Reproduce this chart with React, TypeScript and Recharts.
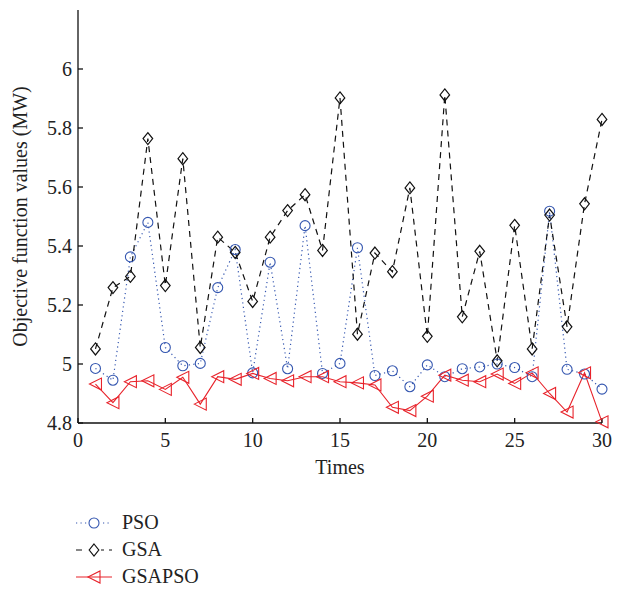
import React from "react";
import { LineChart, Line, XAxis, YAxis } from "recharts";

// ─── Data ─────────────────────────────────────────────────────────────────────

const TIMES: number[] = Array.from({ length: 30 }, (_, i) => i + 1);

const PSO: number[] = [
  4.985, 4.945, 5.363, 5.48, 5.056, 4.994, 5.002, 5.259, 5.388, 4.97,
  5.345, 4.984, 5.469, 4.968, 5.002, 5.394, 4.961, 4.977, 4.923, 4.997,
  4.957, 4.984, 4.99, 5.0, 4.988, 4.957, 5.518, 4.982, 4.966, 4.915,
];

const GSA: number[] = [
  5.051, 5.259, 5.297, 5.764, 5.266, 5.696, 5.056, 5.43, 5.378, 5.212,
  5.43, 5.52, 5.574, 5.385, 5.902, 5.101, 5.376, 5.313, 5.597, 5.094,
  5.912, 5.16, 5.382, 5.011, 5.47, 5.051, 5.505, 5.126, 5.543, 5.829,
];

const GSAPSO: number[] = [
  4.932, 4.869, 4.94, 4.943, 4.914, 4.955, 4.864, 4.957, 4.948, 4.968,
  4.951, 4.943, 4.957, 4.957, 4.94, 4.936, 4.929, 4.853, 4.842, 4.891,
  4.962, 4.945, 4.94, 4.966, 4.934, 4.97, 4.9, 4.837, 4.97, 4.804,
];

const X_TICKS = [0, 5, 10, 15, 20, 25, 30];
const Y_TICKS = [4.8, 5, 5.2, 5.4, 5.6, 5.8, 6];

const DATA = TIMES.map((t, i) => ({
  t,
  pso: PSO[i],
  gsa: GSA[i],
  gsapso: GSAPSO[i],
}));

// ─── Styles ───────────────────────────────────────────────────────────────────

const FONT = "'Liberation Serif', 'DejaVu Serif', serif";
const BLUE = "#3557b0";
const RED = "#e8232b";
const INK = "#111";

const TICK_STYLE = { fontFamily: FONT, fontSize: 20, fill: "#222" };
const LABEL_STYLE = { fontFamily: FONT, fontSize: 20, fill: "#222" };

// ─── Markers ──────────────────────────────────────────────────────────────────

interface DotProps {
  cx?: number;
  cy?: number;
  index?: number;
}

function Ring({ cx, cy }: DotProps) {
  if (cx == null || cy == null) return null;
  return <circle cx={cx} cy={cy} r={5} fill="none" stroke={BLUE} strokeWidth={1.1} />;
}

function Diamond({ cx, cy }: DotProps) {
  if (cx == null || cy == null) return null;
  const s = 6;
  return (
    <path
      d={`M${cx},${cy - s} L${cx + s * 0.8},${cy} L${cx},${cy + s} L${cx - s * 0.8},${cy} Z`}
      fill="none"
      stroke={INK}
      strokeWidth={1.2}
    />
  );
}

function Triangle({ cx, cy }: DotProps) {
  if (cx == null || cy == null) return null;
  const s = 6;
  return (
    <path
      d={`M${cx - s},${cy} L${cx + s},${cy - s} L${cx + s},${cy + s} Z`}
      fill="none"
      stroke={RED}
      strokeWidth={1.1}
    />
  );
}

function LegendRow({
  label,
  color,
  dash,
  marker,
}: {
  label: string;
  color: string;
  dash?: string;
  marker: "circle" | "diamond" | "triangle";
}) {
  return (
    <div style={{ display: "flex", alignItems: "center", height: 27 }}>
      <svg width={40} height={16} style={{ overflow: "visible" }}>
        <line x1={1} y1={8} x2={37} y2={8} stroke={color} strokeWidth={1.2} strokeDasharray={dash} />
        <rect x={12} y={1} width={14} height={14} fill="#fff" stroke="none" opacity={marker === "triangle" ? 0 : 1} />
        {marker === "circle" && <Ring cx={19} cy={8} />}
        {marker === "diamond" && <Diamond cx={19} cy={8} />}
        {marker === "triangle" && <Triangle cx={19} cy={8} />}
      </svg>
      <span style={{ marginLeft: 7, fontFamily: FONT, fontSize: 20, color: "#222" }}>{label}</span>
    </div>
  );
}

export default function App() {
  return (
    <div style={{ position: "absolute", left: 0, top: 0, width: 618, height: 591, background: "#fff" }}>
      <LineChart
        width={618}
        height={591}
        data={DATA}
        margin={{ top: 10, right: 16, left: 18, bottom: 138 }}
      >
        <XAxis
          dataKey="t"
          type="number"
          domain={[0, 30]}
          ticks={X_TICKS}
          tick={TICK_STYLE}
          tickSize={-5}
          tickMargin={15}
          height={30}
          stroke={INK}
          strokeWidth={1.3}
          label={{ value: "Times", position: "bottom", offset: 7, style: LABEL_STYLE }}
        />
        <XAxis
          xAxisId="top"
          dataKey="t"
          type="number"
          orientation="top"
          domain={[0, 30]}
          ticks={X_TICKS}
          tick={false}
          tickSize={-5}
          height={0}
          stroke={INK}
          strokeWidth={1.3}
        />
        <YAxis
          type="number"
          domain={[4.8, 6.2]}
          ticks={Y_TICKS}
          tick={TICK_STYLE}
          tickFormatter={(v: number) => String(v)}
          tickSize={-5}
          tickMargin={11}
          width={60}
          stroke={INK}
          strokeWidth={1.3}
          label={{
            value: "Objective function values (MW)",
            angle: -90,
            position: "insideLeft",
            offset: 2,
            style: { ...LABEL_STYLE, textAnchor: "middle" },
          }}
        />
        <YAxis
          yAxisId="right"
          type="number"
          orientation="right"
          domain={[4.8, 6.2]}
          ticks={Y_TICKS}
          tick={false}
          tickSize={-5}
          width={0}
          stroke={INK}
          strokeWidth={1.3}
        />
        <Line
          dataKey="pso"
          stroke={BLUE}
          strokeWidth={1.2}
          strokeDasharray="1.2 3.3"
          dot={(p: DotProps) => <Ring key={`c${p.index}`} cx={p.cx} cy={p.cy} />}
          isAnimationActive={false}
        />
        <Line
          dataKey="gsa"
          stroke={INK}
          strokeWidth={1.2}
          strokeDasharray="6 5"
          dot={(p: DotProps) => <Diamond key={`d${p.index}`} cx={p.cx} cy={p.cy} />}
          isAnimationActive={false}
        />
        <Line
          dataKey="gsapso"
          stroke={RED}
          strokeWidth={1.1}
          dot={(p: DotProps) => <Triangle key={`t${p.index}`} cx={p.cx} cy={p.cy} />}
          isAnimationActive={false}
        />
      </LineChart>
      <div style={{ position: "absolute", left: 75, top: 509 }}>
        <LegendRow label="PSO" color={BLUE} dash="1.2 3.3" marker="circle" />
        <LegendRow label="GSA" color={INK} dash="6 5" marker="diamond" />
        <LegendRow label="GSAPSO" color={RED} marker="triangle" />
      </div>
    </div>
  );
}
